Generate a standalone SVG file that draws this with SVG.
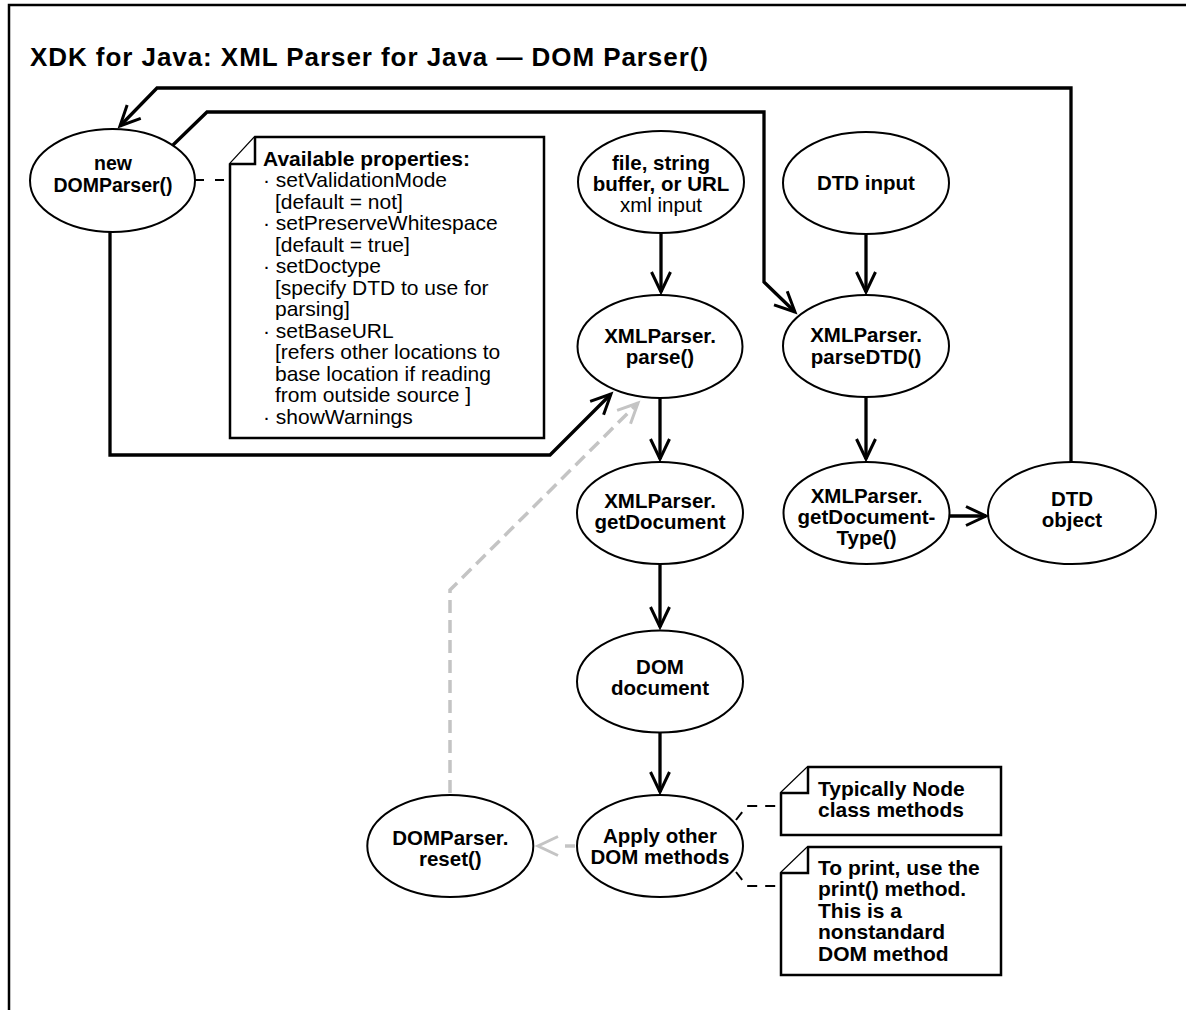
<svg xmlns="http://www.w3.org/2000/svg" width="1186" height="1010" viewBox="0 0 1186 1010">
<style>
  text { font-family: "Liberation Sans", Arial, Helvetica, sans-serif; fill: #000; }
  .title { font-size: 26px; font-weight: bold; }
  .lbl { font-size: 20.5px; font-weight: bold; text-anchor: middle; }
  .lbl-s { font-size: 19.5px; font-weight: bold; text-anchor: middle; }
  .reg { font-weight: normal; }
  .note-t { font-size: 21px; }
  .note-b { font-size: 21px; font-weight: bold; }
  .node ellipse { fill: #fff; stroke: #000; stroke-width: 2; }
  .note path { fill: #fff; stroke: #000; stroke-width: 2.5; stroke-linejoin: miter; }
  .edge { fill: none; stroke: #000; stroke-width: 3.3; stroke-linejoin: miter; }
  .grey { fill: none; stroke: #c4c4c4; stroke-width: 3.5; stroke-dasharray: 13 7; }
  .anchor { fill: none; stroke: #000; stroke-width: 2; stroke-dasharray: 10 8; }
  .frame { fill: none; stroke: #000; stroke-width: 2.5; }
</style>
<defs>
  <marker id="arr" markerUnits="userSpaceOnUse" viewBox="-24 -14 28 28" refX="0" refY="0" markerWidth="28" markerHeight="28" orient="auto" overflow="visible">
    <path d="M-20,-9.5 L0,0 L-20,9.5" fill="none" stroke="#000" stroke-width="3" stroke-dasharray="none"/>
  </marker>
  <marker id="arrg" markerUnits="userSpaceOnUse" viewBox="-24 -14 28 28" refX="0" refY="0" markerWidth="28" markerHeight="28" orient="auto" overflow="visible">
    <path d="M-20,-9.5 L0,0 L-20,9.5" fill="none" stroke="#c4c4c4" stroke-width="3" stroke-dasharray="none"/>
  </marker>
</defs>

<rect x="0" y="0" width="1186" height="1010" fill="#fff"/>
<path class="frame" d="M9,1010 V5 H1186"/>

<text class="title" x="30" y="66" textLength="678">XDK for Java: XML Parser for Java — DOM Parser()</text>

<g id="connectors">
  <path class="edge" d="M661,233 V292" marker-end="url(#arr)"/>
  <path class="edge" d="M866,234 V292" marker-end="url(#arr)"/>
  <path class="edge" d="M660,398 V459" marker-end="url(#arr)"/>
  <path class="edge" d="M660,564 V627" marker-end="url(#arr)"/>
  <path class="edge" d="M660,733 V792" marker-end="url(#arr)"/>
  <path class="edge" d="M866,397 V459" marker-end="url(#arr)"/>
  <path class="edge" d="M950,516 H986" marker-end="url(#arr)"/>
  <path class="edge" d="M1071,462 V88 H157 L120,126" marker-end="url(#arr)"/>
  <path class="edge" d="M173,145 L207,112 H764 V282 L795,312" marker-end="url(#arr)"/>
  <path class="edge" d="M110,232 V455 H550 L611,394" marker-end="url(#arr)"/>
  <path class="grey" d="M575,846 H538" style="stroke-dasharray:10 30" marker-end="url(#arrg)"/>
  <path class="grey" d="M450,793 V590 L638,403" marker-end="url(#arrg)"/>
  <path class="anchor" d="M195,180 H230" style="stroke-dasharray:9 11"/>
  <path class="anchor" d="M736,820 L747,806 H781"/>
  <path class="anchor" d="M736,872 L747,886 H781"/>
</g>

<g id="node-new-domparser" class="node">
  <ellipse cx="112.5" cy="180.5" rx="82.5" ry="51.5"/>
  <text class="lbl-s" x="113" y="170">new</text>
  <text class="lbl-s" x="113" y="192">DOMParser()</text>
</g>

<g id="note-properties" class="note">
  <path d="M230,164 L255,137 H544 V438 H230 Z"/>
  <path d="M255,137 V164 H230" fill="none"/>
  <text class="note-b" x="263" y="165.5">Available properties:</text>
  <text class="note-t" x="263" y="187">· setValidationMode</text>
  <text class="note-t" x="275" y="208.5">[default = not]</text>
  <text class="note-t" x="263" y="230">· setPreserveWhitespace</text>
  <text class="note-t" x="275" y="251.5">[default = true]</text>
  <text class="note-t" x="263" y="273">· setDoctype</text>
  <text class="note-t" x="275" y="294.5">[specify DTD to use for</text>
  <text class="note-t" x="275" y="316">parsing]</text>
  <text class="note-t" x="263" y="337.5">· setBaseURL</text>
  <text class="note-t" x="275" y="359">[refers other locations to</text>
  <text class="note-t" x="275" y="380.5">base location if reading</text>
  <text class="note-t" x="275" y="402">from outside source ]</text>
  <text class="note-t" x="263" y="423.5">· showWarnings</text>
</g>

<g id="node-xml-input" class="node">
  <ellipse cx="661" cy="182" rx="83" ry="51"/>
  <text class="lbl" x="661" y="170">file, string</text>
  <text class="lbl" x="661" y="191">buffer, or URL</text>
  <text class="lbl reg" x="661" y="212">xml input</text>
</g>

<g id="node-dtd-input" class="node">
  <ellipse cx="866" cy="183" rx="83" ry="51"/>
  <text class="lbl" x="866" y="189.5">DTD input</text>
</g>

<g id="node-parse" class="node">
  <ellipse cx="660" cy="346.5" rx="82.5" ry="51.5"/>
  <text class="lbl" x="660" y="342.5">XMLParser.</text>
  <text class="lbl" x="660" y="364">parse()</text>
</g>

<g id="node-parsedtd" class="node">
  <ellipse cx="866" cy="346" rx="83" ry="51"/>
  <text class="lbl" x="866" y="342">XMLParser.</text>
  <text class="lbl" x="866" y="363.5">parseDTD()</text>
</g>

<g id="node-getdocument" class="node">
  <ellipse cx="660" cy="513" rx="83" ry="51"/>
  <text class="lbl" x="660" y="508">XMLParser.</text>
  <text class="lbl" x="660" y="529">getDocument</text>
</g>

<g id="node-getdocumenttype" class="node">
  <ellipse cx="866.5" cy="513" rx="83" ry="51"/>
  <text class="lbl" x="866.5" y="502.5">XMLParser.</text>
  <text class="lbl" x="866.5" y="523.5">getDocument-</text>
  <text class="lbl" x="866.5" y="544.5">Type()</text>
</g>

<g id="node-dtd-object" class="node">
  <ellipse cx="1072" cy="513" rx="84" ry="51"/>
  <text class="lbl" x="1072" y="506">DTD</text>
  <text class="lbl" x="1072" y="527">object</text>
</g>

<g id="node-dom-document" class="node">
  <ellipse cx="660" cy="681.5" rx="83" ry="51"/>
  <text class="lbl" x="660" y="674">DOM</text>
  <text class="lbl" x="660" y="695">document</text>
</g>

<g id="node-apply" class="node">
  <ellipse cx="660" cy="846" rx="83" ry="51"/>
  <text class="lbl" x="660" y="843">Apply other</text>
  <text class="lbl" x="660" y="864">DOM methods</text>
</g>

<g id="node-reset" class="node">
  <ellipse cx="450.3" cy="846" rx="83" ry="51"/>
  <text class="lbl" x="450.3" y="844.5">DOMParser.</text>
  <text class="lbl" x="450.3" y="865.5">reset()</text>
</g>

<g id="note-node-methods" class="note">
  <path d="M781,793 L808,767 H1001 V835 H781 Z"/>
  <path d="M808,767 V793 H781" fill="none"/>
  <text class="note-b" x="818" y="796">Typically Node</text>
  <text class="note-b" x="818" y="817">class methods</text>
</g>

<g id="note-print" class="note">
  <path d="M781,873 L808,847 H1001 V975 H781 Z"/>
  <path d="M808,847 V873 H781" fill="none"/>
  <text class="note-b" x="818" y="875">To print, use the</text>
  <text class="note-b" x="818" y="896.4">print() method.</text>
  <text class="note-b" x="818" y="917.8">This is a</text>
  <text class="note-b" x="818" y="939.2">nonstandard</text>
  <text class="note-b" x="818" y="960.6">DOM method</text>
</g>
</svg>
